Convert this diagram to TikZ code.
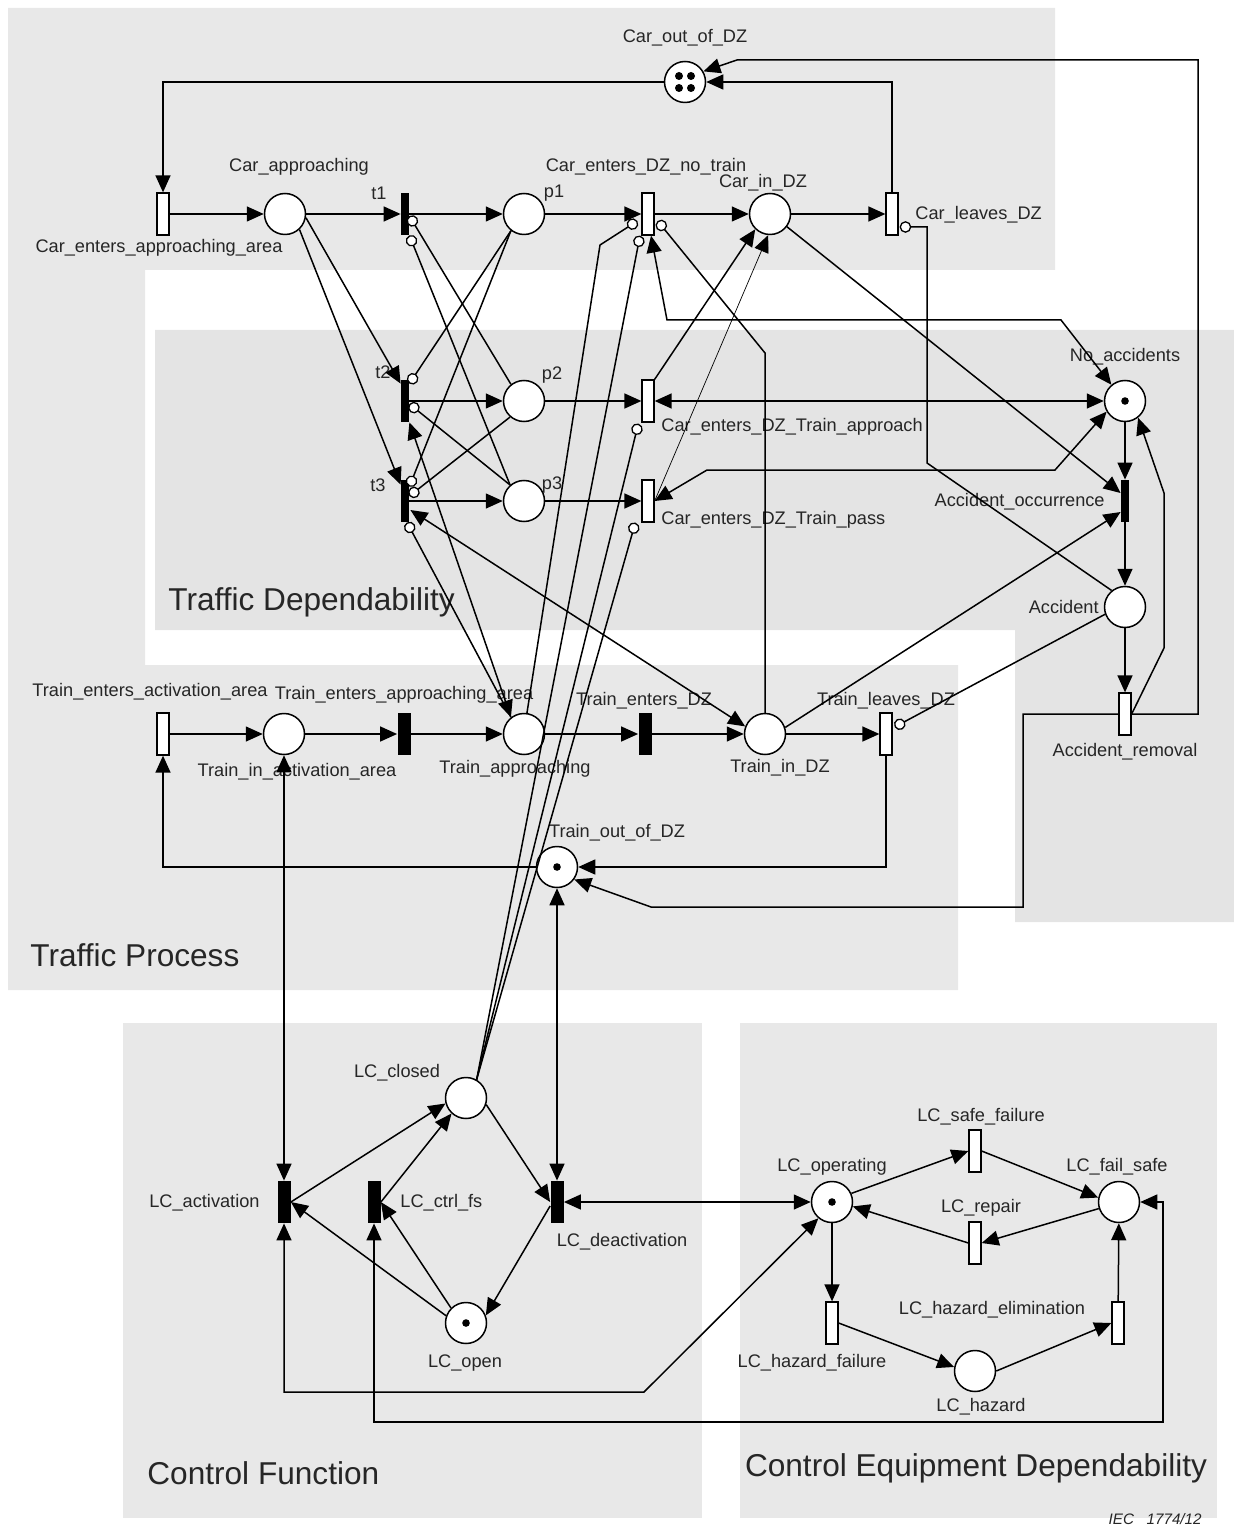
\documentclass[tikz,border=0pt]{standalone}
\usepackage{fontspec}
\setmainfont{Liberation Sans}
\usetikzlibrary{arrows.meta,calc}

\begin{document}
\begin{tikzpicture}[x=0.5pt,y=-0.5pt,
  font=\fontsize{9.1}{10}\selectfont,
  place/.style={draw,circle,fill=white,minimum size=20.5pt,inner sep=0pt,line width=0.75pt},
  trans/.style={draw,fill=white,minimum width=6pt,minimum height=21pt,inner sep=0pt,line width=0.65pt},
  imm/.style={fill=black,minimum width=4pt,minimum height=21pt,inner sep=0pt},
  immw/.style={imm,minimum width=6.5pt},
  lbl/.style={inner sep=0pt,text=black!85},
  area/.style={inner sep=0pt,text=black!85,font=\fontsize{15.8}{18}\selectfont,anchor=west},
  arc/.style={-{Triangle[length=8.5pt,width=7.5pt]},line width=0.75pt},
  dbl/.style={{Triangle[length=8.5pt,width=7.5pt]}-{Triangle[length=8.5pt,width=7.5pt]},line width=0.75pt},
  inh/.style={-{Circle[length=5.8pt,fill=white,line width=0.65pt]},line width=0.75pt}]
\useasboundingbox (0,0) rectangle (1234,1529);

% shaded areas
\fill[black!9] (8,8) -- (1055,8) -- (1055,270) -- (145,270) -- (145,665)
  -- (958,665) -- (958,990) -- (8,990) -- cycle;
\fill[black!10.5] (155,330) -- (1234,330) -- (1234,922) -- (1015,922)
  -- (1015,630) -- (155,630) -- cycle;
\fill[black!9] (123,1023) rectangle (702,1518);
\fill[black!9] (740,1023) rectangle (1217,1518);

\node[area] (a-td) at (168,602) {Traffic Dependability};
\node[area] (a-tp) at (30,955) {Traffic Process};
\node[area] (a-cf) at (147,1473) {Control Function};
\node[area,anchor=center] (a-ce) at (976,1468) {Control Equipment Dependability};

% car places and transitions
\node[place] (cod) at (685,82) {};
\node[trans] (cea) at (163,214) {};
\node[place] (ca) at (285,214) {};
\node[imm] (t1) at (405,214) {};
\node[imm] (t2) at (405,401) {};
\node[imm] (t3) at (405,501) {};
\node[place] (p1) at (524,214) {};
\node[place] (p2) at (524,401) {};
\node[place] (p3) at (524,501) {};
\node[trans] (cnt) at (648,214) {};
\node[trans] (cta) at (648,401) {};
\node[trans] (ctp) at (648,501) {};
\node[place] (cid) at (770,214) {};
\node[trans] (cld) at (892,214) {};

% accidents
\node[place] (na) at (1125,401) {};
\node[imm] (ao) at (1125,501) {};
\node[place] (acc) at (1125,607) {};
\node[trans] (ar) at (1125,714) {};

% train
\node[trans] (tea) at (163,734) {};
\node[place] (tia) at (284,734) {};
\node[immw] (teap) at (404,734) {};
\node[place] (tap) at (524,734) {};
\node[immw] (ted) at (645,734) {};
\node[place] (tid) at (765,734) {};
\node[trans] (tld) at (886,734) {};
\node[place] (tod) at (557,867) {};

% control function
\node[place] (lcc) at (466,1098) {};
\node[immw] (lac) at (284,1202) {};
\node[immw] (lcf) at (374,1202) {};
\node[immw] (lde) at (557,1202) {};
\node[place] (lco) at (466,1323) {};

% control equipment
\node[place] (lop) at (832,1202) {};
\node[trans] (lsf) at (975,1151) {};
\node[place] (lfs) at (1119,1202) {};
\node[trans] (lrp) at (975,1243) {};
\node[trans] (lhf) at (832,1323) {};
\node[place] (lhz) at (975,1371) {};
\node[trans] (lhe) at (1118,1323) {};

% tokens
\foreach \dx/\dy in {-6/-6,6/-6,-6/6,6/6}
  \fill ($(cod)+(\dx,\dy)$) circle[radius=2pt];
\foreach \p in {na,tod,lco,lop}
  \fill (\p) circle[radius=1.9pt];

% labels
\node[lbl] (l-cod) at (685,38) {Car\_out\_of\_DZ};
\node[lbl] (l-ca) at (299,167) {Car\_approaching};
\node[lbl] (l-cea) at (159,248) {Car\_enters\_approaching\_area};
\node[lbl] (l-t1) at (379,193) {t1};
\node[lbl] (l-t2) at (383,372) {t2};
\node[lbl] (l-t3) at (378,485) {t3};
\node[lbl] (l-p1) at (554,193) {p1};
\node[lbl] (l-p2) at (552,375) {p2};
\node[lbl] (l-p3) at (552,485) {p3};
\node[lbl] (l-cnt) at (646,167) {Car\_enters\_DZ\_no\_train};
\node[lbl] (l-cid) at (763,183) {Car\_in\_DZ};
\node[lbl,anchor=west] (l-cld) at (915,215) {Car\_leaves\_DZ};
\node[lbl,anchor=west] (l-cta) at (661,427) {Car\_enters\_DZ\_Train\_approach};
\node[lbl,anchor=west] (l-ctp) at (661,520) {Car\_enters\_DZ\_Train\_pass};
\node[lbl] (l-na) at (1125,357) {No\_accidents};
\node[lbl,anchor=east] (l-ao) at (1105,502) {Accident\_occurrence};
\node[lbl,anchor=east] (l-acc) at (1099,607) {Accident};
\node[lbl] (l-ar) at (1125,752) {Accident\_removal};
\node[lbl] (l-tea) at (150,692) {Train\_enters\_activation\_area};
\node[lbl] (l-teap) at (404,695) {Train\_enters\_approaching\_area};
\node[lbl] (l-tia) at (297,772) {Train\_in\_activation\_area};
\node[lbl] (l-tap) at (515,769) {Train\_approaching};
\node[lbl] (l-ted) at (644,701) {Train\_enters\_DZ};
\node[lbl] (l-tid) at (780,768) {Train\_in\_DZ};
\node[lbl] (l-tld) at (886,701) {Train\_leaves\_DZ};
\node[lbl] (l-tod) at (617,833) {Train\_out\_of\_DZ};
\node[lbl] (l-lcc) at (397,1073) {LC\_closed};
\node[lbl,anchor=east] (l-lac) at (260,1203) {LC\_activation};
\node[lbl,anchor=west] (l-lcf) at (400,1203) {LC\_ctrl\_fs};
\node[lbl] (l-lde) at (622,1242) {LC\_deactivation};
\node[lbl] (l-lco) at (465,1363) {LC\_open};
\node[lbl] (l-lop) at (832,1167) {LC\_operating};
\node[lbl] (l-lsf) at (981,1117) {LC\_safe\_failure};
\node[lbl] (l-lfs) at (1117,1167) {LC\_fail\_safe};
\node[lbl] (l-lrp) at (981,1208) {LC\_repair};
\node[lbl] (l-lhf) at (812,1363) {LC\_hazard\_failure};
\node[lbl] (l-lhz) at (981,1407) {LC\_hazard};
\node[lbl] (l-lhe) at (992,1310) {LC\_hazard\_elimination};
\node[lbl,anchor=east,font=\fontsize{7.6}{9}\itshape] (iec) at (1202,1519) {IEC\ \ \ 1774/12};

% bends
\coordinate (k-arN) at (1198,60);
\coordinate (k-codE) at (737,60);
\coordinate (k-naS) at (1055,470);
\coordinate (k-ctpE) at (707,470);
\coordinate (k-naN) at (1061,320);
\coordinate (k-cntS) at (667,320);
\coordinate (k-arE) at (1164,648);
\coordinate (k-naE) at (1164,493);
\coordinate (k-accN) at (927,463);
\coordinate (k-cldE) at (927,227);
\coordinate (k-arW) at (1023,907);
\coordinate (k-todE) at (651,907);
\coordinate (k-lacS) at (644,1392);
\coordinate (k-lcfS) at (1163,1422);
\coordinate (k-tapN) at (600,245);
\coordinate (k-tidN) at (765,353);

% car flow
\draw[arc] (cod.west) -| (cea.north);
\draw[arc] (cea) -- (ca);
\draw[arc] (ca) -- (t1);
\draw[arc] (t1) -- (p1);
\draw[arc] (p1) -- (cnt);
\draw[arc] (cnt) -- (cid);
\draw[arc] (cid) -- (cld);
\draw[arc] (cld.north) |- (cod.east);
\draw[arc] (ar.east) -| (k-arN) -- (k-codE) -- (cod.30);

% conflict between t1, t2 and t3
\draw[arc] (ca.-10) -- ($(t2.north west)+(0,4)$);
\draw[arc] (ca.-47) -- ($(t3.north west)+(0,5)$);
\draw[arc] (t2) -- (p2);
\draw[arc] (t3) -- (p3);
\draw[arc] (p2) -- (cta);
\draw[arc] (p3) -- (ctp);
\draw[inh] (p2.128) -- ($(t1.east)+(0,2)$);
\draw[inh] (p3.131) -- (t1.south east);
\draw[inh] (p1.-128) -- ($(t2.north east)+(0,4)$);
\draw[inh] (p3.131) -- ($(t2.east)+(0,3)$);
\draw[inh] (p1.-128) -- ($(t3.north east)+(0,7)$);
\draw[inh] (p2.-131) -- ($(t3.east)+(0,-5)$);
\draw[inh] (tap.128) -- ($(t3.south)+(2,0)$);
\draw[dbl] (t2.south east) -- (tap.128);
\draw[dbl] ($(t3.east)+(1,9)$) -- (tid.159);

% entering the danger zone
\draw[dbl] (cta) -- (na);
\draw[dbl] (ctp.east) -- (k-ctpE) -- (k-naS) -- (na.-150);
\draw[dbl] ($(cnt.south)+(3,0)$) -- (k-cntS) -- (k-naN) -- (na.130);
\draw[arc] (cta.north east) -- (cid.-134);
\draw[arc,line width=0.35pt] (ctp.east) -- (cid.-95);
\draw[inh] (tap.82) -- (k-tapN) -- ($(cnt.west)+(-4,7)$);
\draw[inh] (tid.north) -- (k-tidN) -- ($(cnt.east)+(3,7)$);
\draw[inh] (lcc.60) -- ($(cnt.south)+(-8,0)$);
\draw[inh] (lcc.60) -- ($(cta.south west)+(-3,1)$);
\draw[inh] (lcc.60) -- ($(ctp.south west)+(-6,0)$);

% accidents
\draw[arc] (cid.-37) -- ($(ao.west)+(0,-8)$);
\draw[arc] (tid.18) -- ($(ao.west)+(0,11)$);
\draw[arc] (na) -- (ao);
\draw[arc] (ao) -- (acc);
\draw[arc] (acc) -- (ar);
\draw[arc] (ar.east) -- (k-arE) -- (k-naE) -- (na.-52);
\draw[inh] (acc.129) -- (k-accN) -- (k-cldE) -- ($(cld.east)+(1,13)$);
\draw[inh] (acc.-160) -- ($(tld.east)+(2,-7)$);
\draw[arc] (ar.west) -| (k-arW) -- (k-todE) -- (tod.-36);

% train flow
\draw[arc] (tea) -- (tia);
\draw[arc] (tia) -- (teap);
\draw[arc] (teap) -- (tap);
\draw[arc] (tap) -- (ted);
\draw[arc] (ted) -- (tid);
\draw[arc] (tid) -- (tld);
\draw[arc] (tld.south) |- (tod.east);
\draw[arc] (tod.west) -| (tea.south);
\draw[dbl] (tia) -- (lac);
\draw[dbl] (tod) -- (lde);

% control function
\draw[arc] (lac.east) -- (lcc.-165);
\draw[arc] (lcf.east) -- (lcc.-133);
\draw[arc] (lco.160) -- (lac.east);
\draw[arc] (lco.135) -- (lcf.east);
\draw[arc] (lcc.-18) -- (lde.west);
\draw[arc] ($(lde.west)+(0,4)$) -- (lco.21);
\draw[dbl] (lac.south) |- (k-lacS) -- (lop.-130);
\draw[dbl] (lcf.south) |- (k-lcfS) |- (lfs.east);
\draw[dbl] (lde) -- (lop);

% control equipment
\draw[arc] (lop.24) -- (lsf.west);
\draw[arc] (lsf.east) -- (lfs.168);
\draw[arc] (lfs.-162) -- (lrp.east);
\draw[arc] (lrp.west) -- (lop.-12);
\draw[arc] (lop) -- (lhf);
\draw[arc] (lhf.east) -- (lhz.169);
\draw[arc] (lhz.east) -- (lhe.west);
\draw[arc] (lhe) -- (lfs);
\end{tikzpicture}
\end{document}
